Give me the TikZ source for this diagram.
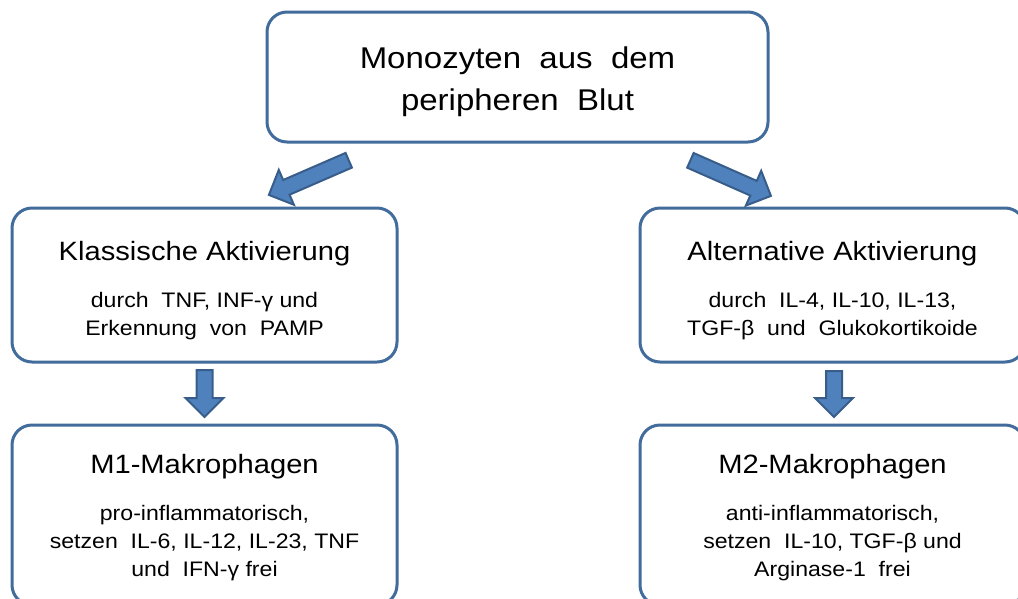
\documentclass[tikz,border=0pt]{standalone}
\usepackage{fontspec}
\setmainfont[FakeStretch=1.1]{Liberation Sans}
\usetikzlibrary{positioning}
\usetikzlibrary{shapes.arrows}
\usetikzlibrary{calc}
\definecolor{boxblue}{RGB}{65,108,155}
\definecolor{arrowfill}{RGB}{79,129,189}
\definecolor{arrowline}{RGB}{56,93,138}
\tikzset{box/.style={draw=boxblue, line width=3pt, rounded corners=20pt, fill=white, align=center, inner sep=0pt}}
\tikzset{blockarrow/.style={single arrow, draw=arrowline, fill=arrowfill, line width=2pt, inner sep=7pt, single arrow head extend=11pt, minimum height=#1, sloped, allow upside down, midway}}
\newcommand{\topfont}{\fontsize{30}{42}\selectfont}
\newcommand{\titlefont}{\fontsize{26.5}{30}\selectfont}
\newcommand{\detailfont}{\fontsize{21}{28}\selectfont}

\begin{document}
\begin{tikzpicture}[x=1pt,y=-1pt]
\useasboundingbox (0,0) rectangle (1018,598);
\clip (0,0) rectangle (1018,598);
% boxes
\node[box, font=\topfont, minimum width=501pt, minimum height=130pt] (mono) at (517.5,77) {\rule{0pt}{32pt}Monozyten\ \ aus\ \ dem\\peripheren\ \ Blut};
\node[box, font=\detailfont, minimum width=385pt, minimum height=154pt] (klass) at (204.5,285) {\titlefont\rule{0pt}{31pt}Klassische Aktivierung\\[19pt]durch\ \ TNF, INF-γ und\\Erkennung\ \ von\ \ PAMP};
\node[box, font=\detailfont, minimum width=385pt, minimum height=154pt] (alt) at (832.5,285) {\titlefont\rule{0pt}{31pt}Alternative Aktivierung\\[19pt]durch\ \ IL-4, IL-10, IL-13,\\TGF-β\ \ und\ \ Glukokortikoide};
\node[box, font=\detailfont, minimum width=385pt, minimum height=180pt] (m1) at (204.5,515) {\titlefont\rule{0pt}{24pt}M1-Makrophagen\\[19pt]pro-inflammatorisch,\\setzen\ \ IL-6, IL-12, IL-23, TNF\\und\ \ IFN-γ frei};
\node[box, font=\detailfont, minimum width=385pt, minimum height=180pt] (m2) at (832.5,515) {\titlefont\rule{0pt}{24pt}M2-Makrophagen\\[19pt]anti-inflammatorisch,\\setzen\ \ IL-10, TGF-β und\\Arginase-1\ \ frei};
% arrows
\path ($(mono.south west)+(85,16)$) -- ($(klass.north east)+(-124,-14)$) node[blockarrow=87pt] {};
\path ($(mono.south east)+(-81,16)$) -- ($(alt.north west)+(127,-13)$) node[blockarrow=88pt] {};
\path ($(klass.south)+(0,4)$) -- ($(m1.north)+(0,-12)$) node[blockarrow=47pt] {};
\path ($(alt.south)+(1.5,5)$) -- ($(m2.north)+(1.5,-12)$) node[blockarrow=46pt] {};
\end{tikzpicture}
\end{document}
